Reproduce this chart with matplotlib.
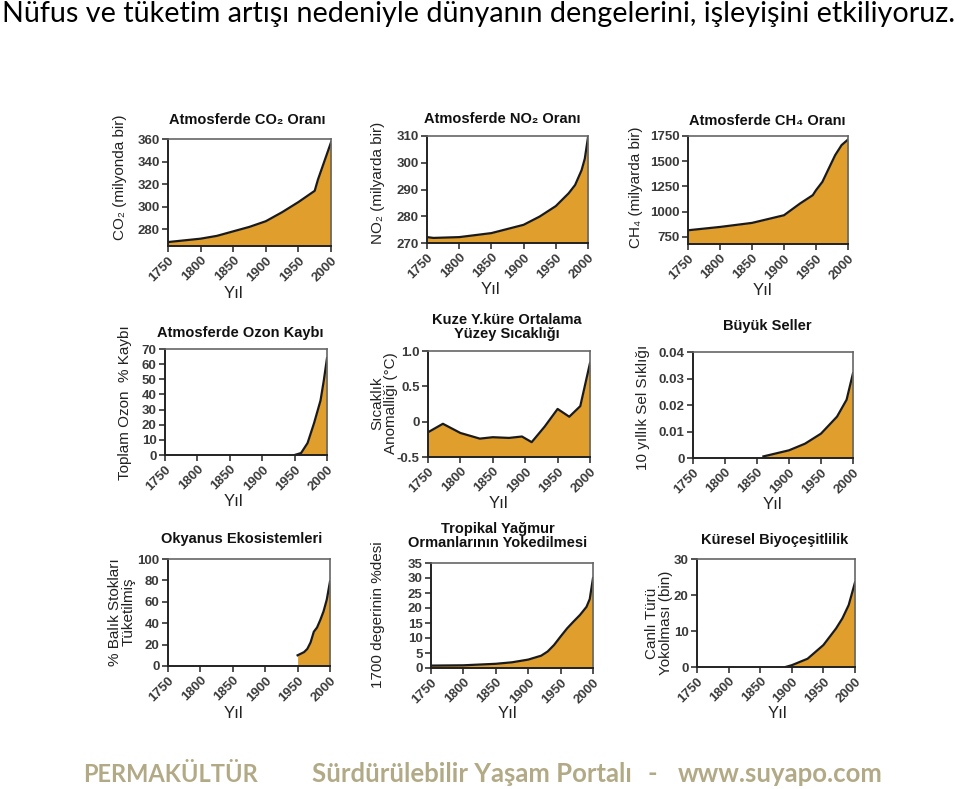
import matplotlib
matplotlib.use("Agg")
import matplotlib.pyplot as plt

W, H = 960, 789
FILL = '#E09E2C'
SANS = ['Liberation Sans', 'DejaVu Sans']

# --- data ---
co2_years = [1750, 1800, 1825, 1850, 1875, 1900, 1925, 1950, 1975, 1980, 2000]
co2_vals = [268.5, 271.5, 274, 278, 282, 287, 295, 304, 314, 324, 357]

no2_years = [1750, 1760, 1800, 1850, 1900, 1925, 1950, 1970, 1980, 1990, 1995, 2000]
no2_vals = [272.2, 271.9, 272.2, 273.7, 276.8, 279.9, 283.8, 288.6, 291.7, 297.2, 301.5, 309.5]

ch4_years = [1750, 1800, 1850, 1900, 1925, 1945, 1950, 1960, 1970, 1980, 1990, 2000]
ch4_vals = [816, 849, 889, 965, 1081, 1164, 1213, 1296, 1429, 1561, 1660, 1715]

ozon_years = [1950, 1960, 1970, 1980, 1990, 1995, 2000]
ozon_vals = [0, 1.3, 7.9, 21, 36, 49, 64]

temp_years = [1750, 1773, 1800, 1830, 1850, 1875, 1895, 1910, 1930, 1950, 1968, 1985, 2000]
temp_vals = [-0.15, -0.03, -0.16, -0.24, -0.22, -0.23, -0.21, -0.29, -0.07, 0.18, 0.07, 0.22, 0.83]

sel_years = [1860, 1900, 1925, 1950, 1975, 1990, 2000]
sel_vals = [0.0006, 0.0029, 0.0054, 0.0092, 0.0156, 0.022, 0.032]

balik_years = [1950, 1960, 1965, 1970, 1975, 1980, 1985, 1990, 1995, 2000]
balik_vals = [10, 13, 16, 22, 32, 36, 43, 51, 62, 79]

orman_years = [1750, 1800, 1850, 1875, 1900, 1920, 1930, 1940, 1950, 1960, 1970, 1980, 1990, 1995, 2000]
orman_vals = [0.8, 0.9, 1.4, 1.9, 2.8, 4.1, 5.5, 7.7, 10.5, 13.2, 15.5, 17.7, 20.4, 23, 30]

tur_years = [1890, 1900, 1925, 1950, 1970, 1980, 1990, 2000]
tur_vals = [0, 0.5, 2.3, 6.1, 10.7, 13.5, 17.2, 23.5]

x_ticks = [1750, 1800, 1850, 1900, 1950, 2000]

panels = [
    # box(l,t,r,b), years, vals, ylim, yticks, yticklabels
    dict(box=(168, 139, 331, 246), x=co2_years, y=co2_vals, ylim=(265, 360),
         yt=[280, 300, 320, 340, 360], ytl=None),
    dict(box=(427, 136, 588, 243), x=no2_years, y=no2_vals, ylim=(270, 310),
         yt=[270, 280, 290, 300, 310], ytl=None),
    dict(box=(688, 136, 848, 244), x=ch4_years, y=ch4_vals, ylim=(680, 1750),
         yt=[750, 1000, 1250, 1500, 1750], ytl=None),
    dict(box=(165, 349, 327, 455), x=ozon_years, y=ozon_vals, ylim=(0, 70),
         yt=[0, 10, 20, 30, 40, 50, 60, 70], ytl=None),
    dict(box=(428, 351, 590, 457), x=temp_years, y=temp_vals, ylim=(-0.5, 1.0),
         yt=[-0.5, 0, 0.5, 1.0], ytl=['-0.5', '0', '0.5', '1.0']),
    dict(box=(693, 352, 853, 458), x=sel_years, y=sel_vals, ylim=(0, 0.04),
         yt=[0, 0.01, 0.02, 0.03, 0.04], ytl=['0', '0.01', '0.02', '0.03', '0.04']),
    dict(box=(168, 559, 330, 666), x=balik_years, y=balik_vals, ylim=(0, 100),
         yt=[0, 20, 40, 60, 80, 100], ytl=None),
    dict(box=(431, 563, 593, 668), x=orman_years, y=orman_vals, ylim=(0, 35),
         yt=[0, 5, 10, 15, 20, 25, 30, 35], ytl=None),
    dict(box=(697, 559, 855, 667), x=tur_years, y=tur_vals, ylim=(0, 30),
         yt=[0, 10, 20, 30], ytl=None),
]

titles = [
    ("Atmosferde CO\u2082 Oranı", 247, 120),
    ("Atmosferde NO\u2082 Oranı", 502, 119),
    ("Atmosferde CH\u2084 Oranı", 767, 121),
    ("Atmosferde Ozon Kaybı", 240, 333),
    ("Kuze Y.küre Ortalama\nYüzey Sıcaklığı", 507, 327),
    ("Büyük Seller", 767, 326),
    ("Okyanus Ekosistemleri", 242, 539),
    ("Tropikal Yağmur\nOrmanlarının Yokedilmesi", 498, 536),
    ("Küresel Biyoçeşitlilik", 775, 540),
]

ylabels = [
    ("CO\u2082 (milyonda bir)", 120, 177),
    ("NO\u2082 (milyarda bir)", 378, 183),
    ("CH\u2084 (milyarda bir)", 636, 187),
    ("Toplam Ozon  % Kaybı", 125, 403),
    ("Sıcaklık\nAnomalliği (°C)", 384, 403),
    ("10 yıllık Sel Sıklığı", 643, 407),
    ("% Balık Stokları\nTüketilmiş", 122, 612),
    ("1700 degerinin %desi", 378, 615),
    ("Canlı Türü\nYokolması (bin)", 659, 623),
]

xlabels = [(233, 293), (490, 290), (762, 291),
           (233, 502), (498, 503), (772, 505),
           (233, 713), (507, 713), (777, 713)]

fig = plt.figure(figsize=(W / 100, H / 100), dpi=100)
fig.patch.set_facecolor('white')


def fx(px):
    return px / W


def fy(py):
    return 1 - py / H


for p in panels:
    l, t, r, b = p['box']
    ax = fig.add_axes([fx(l), fy(b), (r - l) / W, (b - t) / H])
    ax.fill_between(p['x'], p['y'], p['ylim'][0], color=FILL, lw=0)
    ax.plot(p['x'], p['y'], color='#1a1a1a', lw=1.6)
    ax.set_xlim(1750, 2000)
    ax.set_ylim(*p['ylim'])
    ax.set_xticks(x_ticks)
    ax.set_xticklabels([str(v) for v in x_ticks], rotation=45, ha='right',
                       rotation_mode='anchor', fontsize=9.5, fontweight='bold',
                       color='#3a3a3a', family=SANS)
    ax.set_yticks(p['yt'])
    ax.set_yticklabels(p['ytl'] if p['ytl'] else [str(v) for v in p['yt']],
                       fontsize=9.5, fontweight='bold', color='#3a3a3a', family=SANS)
    ax.tick_params(direction='out', length=4, width=1.2, color='#333', pad=2)
    for side in ['left', 'bottom']:
        ax.spines[side].set_color('#222')
        ax.spines[side].set_linewidth(1.4)
    for side in ['top', 'right']:
        ax.spines[side].set_color('#666')
        ax.spines[side].set_linewidth(1.2)

for text, x, y in titles:
    fig.text(fx(x), fy(y), text, ha='center', va='center', fontsize=10.5,
             fontweight='bold', color='#111', family=SANS, linespacing=1.0)

for text, x, y in ylabels:
    fig.text(fx(x), fy(y), text, ha='center', va='center', rotation=90,
             fontsize=11, color='#222', family=SANS, linespacing=1.0)

for x, y in xlabels:
    fig.text(fx(x), fy(y), "Yıl", ha='center', va='center', fontsize=12,
             color='#222', family=SANS)

# page title and footer
FOOT = dict(va='center', fontweight='bold', color='#B2AA86',
            family=['Lato', 'DejaVu Sans'])
fig.text(fx(2), fy(14), "Nüfus ve tüketim artışı nedeniyle dünyanın dengelerini, işleyişini etkiliyoruz.",
         ha='left', va='center', fontsize=20.7, color='black', family=['Lato', 'DejaVu Sans'])
fig.text(fx(83), fy(774), "PERMAKÜLTÜR", ha='left', fontsize=17, **FOOT)
fig.text(fx(312), fy(774), "Sürdürülebilir Yaşam Portalı", ha='left', fontsize=18.5, **FOOT)
fig.text(fx(652), fy(774), "-", ha='center', fontsize=18.5, **FOOT)
fig.text(fx(883), fy(774), "www.suyapo.com", ha='right', fontsize=18.5, **FOOT)

plt.savefig("out.png", dpi=100, facecolor=fig.get_facecolor())
